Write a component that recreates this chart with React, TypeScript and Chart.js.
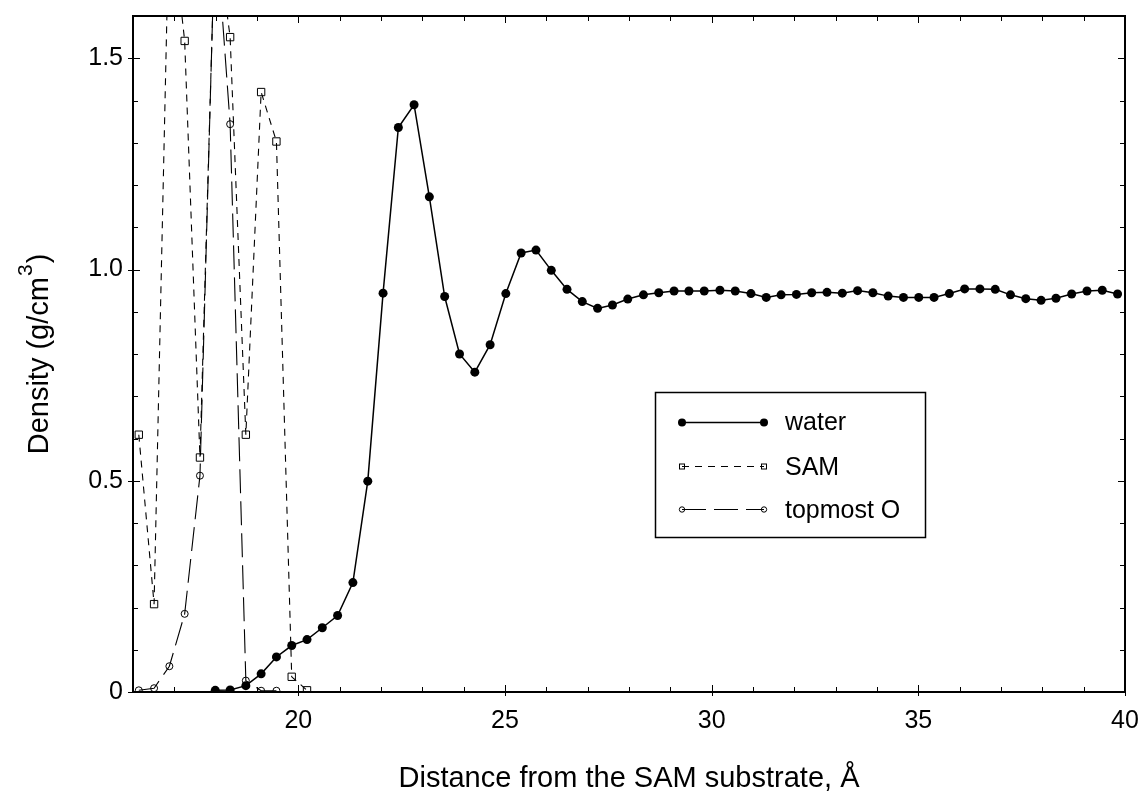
import React, { useEffect, useRef } from 'react';
import { Chart, registerables } from 'chart.js';

Chart.register(...registerables);

// ---------- data ----------
const waterX = [17.99, 18.35, 18.73, 19.10, 19.47, 19.84, 20.21, 20.58, 20.95, 21.32, 21.68, 22.05, 22.42, 22.80, 23.17, 23.54, 23.90, 24.27, 24.64, 25.02, 25.39, 25.75, 26.12, 26.50, 26.87, 27.24, 27.60, 27.97, 28.35, 28.72, 29.09, 29.45, 29.82, 30.20, 30.57, 30.95, 31.32, 31.68, 32.05, 32.42, 32.79, 33.16, 33.53, 33.90, 34.27, 34.64, 35.01, 35.38, 35.75, 36.12, 36.49, 36.86, 37.23, 37.60, 37.97, 38.33, 38.71, 39.08, 39.45, 39.82];
const waterY = [0.004, 0.005, 0.015, 0.043, 0.083, 0.110, 0.124, 0.152, 0.181, 0.259, 0.499, 0.944, 1.336, 1.390, 1.172, 0.936, 0.800, 0.757, 0.822, 0.943, 1.039, 1.046, 0.998, 0.953, 0.924, 0.908, 0.916, 0.930, 0.940, 0.945, 0.949, 0.949, 0.949, 0.951, 0.949, 0.943, 0.934, 0.940, 0.941, 0.945, 0.946, 0.944, 0.950, 0.945, 0.937, 0.934, 0.934, 0.934, 0.943, 0.954, 0.954, 0.953, 0.940, 0.931, 0.927, 0.932, 0.942, 0.949, 0.951, 0.942];

const samX = [16.14, 16.51, 16.88, 17.25, 17.62, 17.99, 18.35, 18.73, 19.10, 19.47, 19.84, 20.21];
const samY = [0.609, 0.208, 1.87, 1.541, 0.555, 1.82, 1.550, 0.609, 1.420, 1.303, 0.036, 0.004];

const topOX = [16.14, 16.51, 16.88, 17.25, 17.62, 17.99, 18.35, 18.73, 19.10, 19.47];
const topOY = [0.004, 0.009, 0.061, 0.185, 0.512, 1.83, 1.344, 0.027, 0.003, 0.003];

const seriesLabels = ['water', 'SAM', 'topmost O'];

const xTicks = [20, 25, 30, 35, 40];
const xTickLabels = ['20', '25', '30', '35', '40'];
const xMinorTicks = [17, 18, 19, 21, 22, 23, 24, 26, 27, 28, 29, 31, 32, 33, 34, 36, 37, 38, 39];
const yTicks = [0, 0.5, 1.0, 1.5];
const yTickLabels = ['0', '0.5', '1.0', '1.5'];
const yMinorTicks = [0.1, 0.2, 0.3, 0.4, 0.6, 0.7, 0.8, 0.9, 1.1, 1.2, 1.3, 1.4, 1.6];

const xTitle = 'Distance from the SAM substrate, Å';
const yTitleMain = 'Density (g/cm';
const yTitleSup = '3';
const yTitleEnd = ')';

const FONT = "'Liberation Sans', Arial, Helvetica, sans-serif";

const toPoints = (xs: number[], ys: number[]) => xs.map((x, i) => ({ x, y: ys[i] }));

const zeroPad = (s: any) => {
  s.paddingTop = 0;
  s.paddingBottom = 0;
  s.paddingLeft = 0;
  s.paddingRight = 0;
};

const frameLegendPlugin = {
  id: 'frameLegend',
  afterDraw(chart: any) {
    const { ctx, chartArea: a, scales } = chart;
    const xs = scales.x;
    const ys = scales.y;
    ctx.save();
    ctx.strokeStyle = '#000';
    ctx.lineWidth = 1;
    ctx.setLineDash([]);
    ctx.beginPath();
    for (const v of xMinorTicks) {
      const px = Math.round(xs.getPixelForValue(v)) + 0.5;
      ctx.moveTo(px, a.bottom); ctx.lineTo(px, a.bottom - 5);
      ctx.moveTo(px, a.top); ctx.lineTo(px, a.top + 5);
    }
    for (const v of xTicks) {
      const px = Math.round(xs.getPixelForValue(v)) + 0.5;
      ctx.moveTo(px, a.bottom + 4); ctx.lineTo(px, a.bottom - 7);
      ctx.moveTo(px, a.top); ctx.lineTo(px, a.top + 7);
    }
    for (const v of yMinorTicks) {
      const py = Math.round(ys.getPixelForValue(v)) + 0.5;
      ctx.moveTo(a.left, py); ctx.lineTo(a.left + 5, py);
      ctx.moveTo(a.right, py); ctx.lineTo(a.right - 5, py);
    }
    for (const v of yTicks) {
      const py = Math.round(ys.getPixelForValue(v)) + 0.5;
      ctx.moveTo(a.left - 5, py); ctx.lineTo(a.left + 7, py);
      ctx.moveTo(a.right, py); ctx.lineTo(a.right - 7, py);
    }
    ctx.stroke();
    ctx.lineWidth = 2;
    ctx.strokeRect(a.left, a.top, a.right - a.left, a.bottom - a.top);

    // y axis title with superscript
    ctx.save();
    const cx = 40;
    const cy = (a.top + a.bottom) / 2;
    ctx.translate(cx, cy);
    ctx.rotate(-Math.PI / 2);
    ctx.fillStyle = '#000';
    ctx.textBaseline = 'middle';
    ctx.textAlign = 'left';
    const mainFont = `29px ${FONT}`;
    const supFont = `21px ${FONT}`;
    ctx.font = mainFont;
    const w1 = ctx.measureText(yTitleMain).width;
    const w3 = ctx.measureText(yTitleEnd).width;
    ctx.font = supFont;
    const w2 = ctx.measureText(yTitleSup).width;
    const total = w1 + w2 + w3 + 2;
    let tx = -total / 2;
    ctx.font = mainFont;
    ctx.fillText(yTitleMain, tx, 0);
    tx += w1 + 1;
    ctx.font = supFont;
    ctx.fillText(yTitleSup, tx, -14);
    tx += w2 + 1;
    ctx.font = mainFont;
    ctx.fillText(yTitleEnd, tx, 0);
    ctx.restore();

    // legend box
    const bx = 655, by = 392, bw = 270, bh = 145;
    ctx.fillStyle = '#fff';
    ctx.fillRect(bx, by, bw, bh);
    ctx.lineWidth = 1.5;
    ctx.strokeRect(bx + 0.5, by + 0.5, bw, bh);
    const lineYs = [422, 466, 509];
    const textYs = [430, 475, 518];
    const x0 = 682, x1 = 764;
    chart.data.datasets.forEach((ds: any, i: number) => {
      const y = lineYs[i];
      ctx.strokeStyle = '#000';
      ctx.lineWidth = ds.borderWidth;
      ctx.setLineDash(ds.borderDash || []);
      ctx.beginPath();
      ctx.moveTo(x0, y + 0.5);
      ctx.lineTo(x1, y + 0.5);
      ctx.stroke();
      ctx.setLineDash([]);
      ctx.lineWidth = 1;
      for (const mx of [x0, x1]) {
        if (ds.pointStyle === 'rect') {
          ctx.strokeRect(mx - 2.5, y - 2, 5, 5);
        } else if (ds.pointBackgroundColor === '#000') {
          ctx.fillStyle = '#000';
          ctx.beginPath(); ctx.arc(mx, y + 0.5, 4, 0, Math.PI * 2); ctx.fill();
        } else {
          ctx.beginPath(); ctx.arc(mx, y + 0.5, 2.7, 0, Math.PI * 2); ctx.stroke();
        }
      }
      ctx.fillStyle = '#000';
      ctx.font = `25px ${FONT}`;
      ctx.textBaseline = 'alphabetic';
      ctx.textAlign = 'left';
      ctx.fillText(ds.label, 785, textYs[i]);
    });
    ctx.restore();
  },
};

export default function App() {
  const canvasRef = useRef<HTMLCanvasElement | null>(null);

  useEffect(() => {
    const canvas = canvasRef.current;
    if (!canvas) return;
    const chart = new Chart(canvas, {
      type: 'line',
      data: {
        datasets: [
          {
            label: seriesLabels[0],
            data: toPoints(waterX, waterY),
            borderColor: '#000',
            borderWidth: 1.5,
            pointStyle: 'circle',
            pointRadius: 4.5,
            pointBackgroundColor: '#000',
            pointBorderColor: '#000',
            pointBorderWidth: 0,
            tension: 0,
            fill: false,
          },
          {
            label: seriesLabels[1],
            data: toPoints(samX, samY),
            borderColor: '#000',
            borderWidth: 1.1,
            borderDash: [7, 6],
            pointStyle: 'rect',
            pointRadius: 5.2,
            pointBackgroundColor: 'rgba(0,0,0,0)',
            pointBorderColor: '#000',
            pointBorderWidth: 1,
            tension: 0,
            fill: false,
          },
          {
            label: seriesLabels[2],
            data: toPoints(topOX, topOY),
            borderColor: '#000',
            borderWidth: 1.1,
            borderDash: [24, 8],
            pointStyle: 'circle',
            pointRadius: 3.5,
            pointBackgroundColor: 'rgba(0,0,0,0)',
            pointBorderColor: '#000',
            pointBorderWidth: 1,
            tension: 0,
            fill: false,
          },
        ],
      },
      options: {
        responsive: false,
        animation: false,
        events: [],
        layout: { padding: { top: 16, right: 18, left: 0, bottom: 0 } },
        plugins: {
          legend: { display: false },
          tooltip: { enabled: false },
        },
        scales: {
          x: {
            type: 'linear',
            position: 'bottom',
            min: 16,
            max: 40,
            grid: { display: false, drawTicks: false },
            border: { display: false },
            afterBuildTicks: (s: any) => {
              s.ticks = xTicks.map((v) => ({ value: v }));
            },
            afterFit: (s: any) => {
              s.height = 116;
              zeroPad(s);
            },
            ticks: {
              autoSkip: false,
              maxRotation: 0,
              padding: 14,
              color: '#000',
              font: { family: FONT, size: 25 },
              callback: (v: any) => {
                const i = xTicks.indexOf(Number(v));
                return i >= 0 ? xTickLabels[i] : '';
              },
            },
            title: {
              display: true,
              text: xTitle,
              color: '#000',
              font: { family: FONT, size: 29 },
              padding: { top: 0, bottom: 12 },
            },
          },
          y: {
            type: 'linear',
            position: 'left',
            min: 0,
            max: 1.6,
            grid: { display: false, drawTicks: false },
            border: { display: false },
            afterBuildTicks: (s: any) => {
              s.ticks = yTicks.map((v) => ({ value: v }));
            },
            afterFit: (s: any) => {
              s.width = 133;
              zeroPad(s);
            },
            ticks: {
              autoSkip: false,
              padding: 10,
              color: '#000',
              font: { family: FONT, size: 25 },
              callback: (v: any) => {
                const i = yTicks.indexOf(Number(v));
                return i >= 0 ? yTickLabels[i] : '';
              },
            },
            title: { display: false },
          },
        },
      },
      plugins: [frameLegendPlugin],
    } as any);
    return () => chart.destroy();
  }, []);

  return (
    <div style={{ position: 'absolute', left: 0, top: 0, width: 1143, height: 808, background: '#fff' }}>
      <canvas ref={canvasRef} width={1143} height={808} style={{ display: 'block', width: 1143, height: 808 }} />
    </div>
  );
}
